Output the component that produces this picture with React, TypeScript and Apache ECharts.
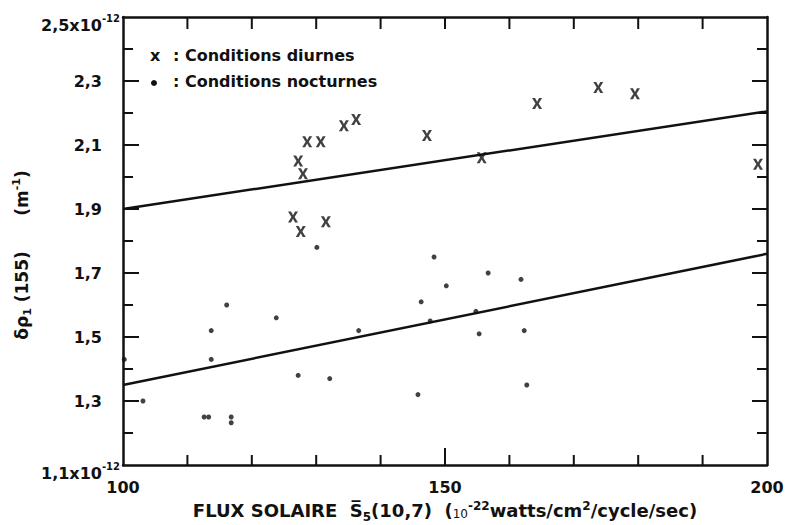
import React, { useEffect, useRef } from "react";
import * as echarts from "echarts";

// Flux solaire S5(10,7) and δρ1(155) values, ×10^-12 m^-1
const diurnesFlux = [126.4, 127.2, 127.6, 127.95, 128.6, 130.7, 131.5, 134.3, 136.2, 147.2, 155.7, 164.3, 173.8, 179.5, 198.6];
const diurnesRho = [1.875, 2.05, 1.83, 2.01, 2.11, 2.11, 1.86, 2.16, 2.18, 2.13, 2.06, 2.23, 2.28, 2.26, 2.04];

const nocturnesFlux = [100.2, 103.1, 112.6, 113.3, 113.7, 113.7, 116.1, 116.8, 116.8, 123.8, 127.2, 130.1, 132.1, 136.6, 145.8, 146.3, 147.7, 148.3, 150.2, 154.8, 155.3, 156.7, 161.8, 162.3, 162.7];
const nocturnesRho = [1.43, 1.3, 1.25, 1.25, 1.43, 1.52, 1.6, 1.25, 1.232, 1.56, 1.38, 1.78, 1.37, 1.52, 1.32, 1.61, 1.55, 1.75, 1.66, 1.58, 1.51, 1.7, 1.68, 1.52, 1.35];

// Fitted straight lines (end points at flux 100 and 200)
const droiteFlux = [100, 200];
const droiteDiurneRho = [1.9, 2.205];
const droiteNocturneRho = [1.35, 1.76];

// Axis ranges, ticks and labels
const fluxRange = [100, 200];
const rhoRange = [1.1, 2.5];
const fluxLabels = [100, 150, 200];
const fluxMajorTicks = [150];
const fluxMinorTicks = [110, 120, 130, 140, 160, 170, 180, 190];
const rhoMajorTicks = [1.3, 1.5, 1.7, 1.9, 2.1, 2.3];
const rhoMinorTicks = [1.2, 1.4, 1.6, 1.8, 2.0, 2.2, 2.4];
const rhoLabels = [1.3, 1.5, 1.7, 1.9, 2.1, 2.3];
const rhoEndLabels = [1.1, 2.5];

const legendItems = [": Conditions diurnes", ": Conditions nocturnes"];

const INK = "#111";
const FONT = "DejaVu Sans";
const WIDTH = 785;
const HEIGHT = 525;
const GRID = { left: 123, right: 18, top: 17, bottom: 60 };

const zip = (xs: number[], ys: number[]) => xs.map((x, i) => [x, ys[i]]);
const comma = (v: number) => v.toFixed(1).replace(".", ",");

const crossPath =
  "path://M0,0H3L5,3.4L7,0H10L6.6,5L10,10H7L5,6.6L3,10H0L3.4,5Z";

// Tick lengths are given in pixels and turned into data units of the grid
const fluxPerPx = (fluxRange[1] - fluxRange[0]) / (WIDTH - GRID.left - GRID.right);
const rhoPerPx = (rhoRange[1] - rhoRange[0]) / (HEIGHT - GRID.top - GRID.bottom);

const tickSegment = (from: number[], to: number[]) => ({
  type: "line",
  xAxisIndex: 0,
  yAxisIndex: 0,
  silent: true,
  clip: false,
  showSymbol: false,
  lineStyle: { color: INK, width: 2 },
  data: [from, to],
});
const bottomTicks = (vs: number[], px: number) =>
  vs.map((v) => tickSegment([v, rhoRange[0]], [v, rhoRange[0] + px * rhoPerPx]));
const topTicks = (vs: number[], px: number) =>
  vs.map((v) => tickSegment([v, rhoRange[1]], [v, rhoRange[1] - px * rhoPerPx]));
const leftTicks = (vs: number[], px: number) =>
  vs.map((v) => tickSegment([fluxRange[0], v], [fluxRange[0] + px * fluxPerPx, v]));
const rightTicks = (vs: number[], px: number) =>
  vs.map((v) => tickSegment([fluxRange[1], v], [fluxRange[1] - px * fluxPerPx, v]));

export default function App() {
  const ref = useRef<HTMLDivElement>(null);

  useEffect(() => {
    if (!ref.current) return;
    const chart = echarts.init(ref.current, null, { renderer: "svg" });

    const labelFont = {
      color: INK,
      fontFamily: FONT,
      fontWeight: "bold" as const,
      fontSize: 16,
    };
    const frameLine = { show: true, onZero: false, lineStyle: { color: INK, width: 2.5 } };
    const hiddenLine = { show: false, onZero: false };
    const noTicks = { show: false };
    const legendFont = `bold 16px "${FONT}"`;

    chart.setOption({
      animation: false,
      backgroundColor: "#fff",
      grid: {
        ...GRID,
        containLabel: false,
        outerBoundsMode: "none",
      },
      xAxis: [
        {
          type: "value",
          min: fluxRange[0],
          max: fluxRange[1],
          position: "bottom",
          axisLine: frameLine,
          splitLine: { show: false },
          axisTick: noTicks,
          axisLabel: {
            ...labelFont,
            customValues: fluxLabels,
            margin: 14,
            formatter: (v: number) => String(v),
          },
          name:
            "{t|FLUX SOLAIRE  }{t|S\u0305}{s|5}{t|(10,7)  (}{n|10}{e|-22}{t|watts/cm}{e|2}{t|/cycle/sec)}",
          nameLocation: "middle",
          nameGap: 32,
          nameTextStyle: {
            rich: {
              t: { ...labelFont, fontSize: 18, lineHeight: 20, verticalAlign: "bottom" },
              s: { ...labelFont, fontSize: 12, lineHeight: 20, verticalAlign: "bottom", padding: [0, 0, -3, 0] },
              n: { ...labelFont, fontWeight: "normal", fontSize: 12, lineHeight: 20, verticalAlign: "bottom" },
              e: { ...labelFont, fontSize: 12, lineHeight: 20, verticalAlign: "top" },
            },
          },
        },
        {
          type: "value",
          min: fluxRange[0],
          max: fluxRange[1],
          position: "top",
          axisLine: frameLine,
          splitLine: { show: false },
          axisTick: noTicks,
          axisLabel: { show: false },
        },
      ],
      yAxis: [
        {
          type: "value",
          min: rhoRange[0],
          max: rhoRange[1],
          position: "left",
          axisLine: frameLine,
          splitLine: { show: false },
          axisTick: noTicks,
          axisLabel: { ...labelFont, customValues: rhoLabels, margin: 21, formatter: comma },
          name: "{g|δρ}{s|1}{g| (155)      (m}{e|-1}{g|)}",
          nameLocation: "middle",
          nameGap: 90,
          nameTextStyle: {
            padding: [0, 28, 0, 0],
            rich: {
              g: { ...labelFont, fontSize: 17, lineHeight: 22, verticalAlign: "middle" },
              s: { ...labelFont, fontSize: 11, lineHeight: 22, verticalAlign: "bottom" },
              e: { ...labelFont, fontSize: 11, lineHeight: 22, verticalAlign: "top" },
            },
          },
        },
        {
          type: "value",
          min: rhoRange[0],
          max: rhoRange[1],
          position: "left",
          axisLine: hiddenLine,
          splitLine: { show: false },
          axisTick: noTicks,
          axisLabel: {
            customValues: rhoEndLabels,
            margin: 3,
            padding: [13, 0, 0, 0],
            formatter: (v: number) => `{m|${comma(v)}x10}{e|-12}`,
            rich: {
              m: { ...labelFont, lineHeight: 20, verticalAlign: "bottom" },
              e: { ...labelFont, fontSize: 10, lineHeight: 20, verticalAlign: "top" },
            },
          },
        },
        {
          type: "value",
          min: rhoRange[0],
          max: rhoRange[1],
          position: "right",
          axisLine: frameLine,
          splitLine: { show: false },
          axisTick: noTicks,
          axisLabel: { show: false },
        },
      ],
      series: [
        ...bottomTicks(fluxMinorTicks, 10),
        ...bottomTicks(fluxMajorTicks, 17),
        ...topTicks([...fluxMinorTicks, ...fluxMajorTicks], 12),
        ...leftTicks(rhoMajorTicks, 16),
        ...leftTicks(rhoMinorTicks, 10),
        ...rightTicks(rhoMajorTicks, 15),
        ...rightTicks(rhoMinorTicks, 10),
        {
          name: "Conditions diurnes",
          type: "scatter",
          xAxisIndex: 0,
          yAxisIndex: 0,
          symbol: crossPath,
          symbolSize: [10, 11],
          itemStyle: { color: INK },
          data: zip(diurnesFlux, diurnesRho),
        },
        {
          name: "Conditions nocturnes",
          type: "scatter",
          xAxisIndex: 0,
          yAxisIndex: 0,
          symbol: "circle",
          symbolSize: 5,
          itemStyle: { color: INK },
          data: zip(nocturnesFlux, nocturnesRho),
        },
        {
          name: "droite diurne",
          type: "line",
          xAxisIndex: 0,
          yAxisIndex: 0,
          showSymbol: false,
          lineStyle: { color: INK, width: 2.5 },
          data: zip(droiteFlux, droiteDiurneRho),
        },
        {
          name: "droite nocturne",
          type: "line",
          xAxisIndex: 0,
          yAxisIndex: 0,
          showSymbol: false,
          lineStyle: { color: INK, width: 2.5 },
          data: zip(droiteFlux, droiteNocturneRho),
        },
      ],
      graphic: [
        { type: "text", left: 150, top: 47, style: { text: "x", fill: INK, font: legendFont } },
        { type: "text", left: 173, top: 47, style: { text: legendItems[0], fill: INK, font: legendFont } },
        { type: "circle", shape: { cx: 154, cy: 83, r: 3 }, style: { fill: INK } },
        { type: "text", left: 173, top: 73, style: { text: legendItems[1], fill: INK, font: legendFont } },
      ],
    });

    return () => chart.dispose();
  }, []);

  return (
    <div
      ref={ref}
      style={{ position: "fixed", left: 0, top: 0, width: WIDTH, height: HEIGHT, background: "#fff" }}
    />
  );
}
